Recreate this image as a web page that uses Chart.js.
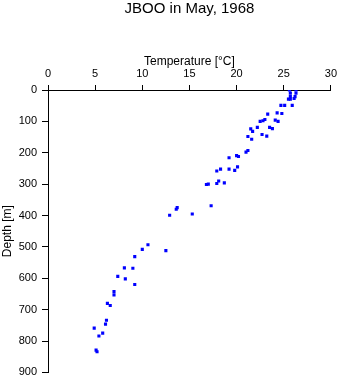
<!DOCTYPE html>
<html>
<head>
<meta charset="utf-8">
<script src="https://cdn.jsdelivr.net/npm/chart.js"></script>
<style>
  html, body { margin: 0; padding: 0; background: #fff; }
  canvas { display: block; }
</style>
</head>
<body>
<canvas id="profile" width="341" height="384"></canvas>
<script>
// JBOO station, May 1968
const temperature = [
    25.6, 26.3, 25.7, 26.3, 25.7, 26.2, 25.5, 25.7, 26.1, 24.7,
    25.1, 25.9, 23.3, 24.3, 24.8, 23.0, 22.5, 22.8, 24.1, 24.4,
    22.2, 23.5, 23.8, 21.5, 21.7, 22.7, 23.2, 21.2, 21.6, 21.2,
    21.0, 20.0, 20.2, 19.2, 20.1, 19.2, 19.8, 18.3, 17.9, 18.1,
    17.9, 18.7, 16.8, 17.0, 13.7, 13.6, 17.3, 15.3, 12.9, 10.6,
    10.0, 12.5, 9.2, 8.1, 9.0, 7.4, 8.2, 9.2, 7.0, 7.0,
    6.3, 6.6, 6.2, 6.1, 4.9, 5.8, 5.4, 5.1, 5.2
];
const depth = [
    0, 0, 10, 10, 21, 21, 29, 29, 27, 49,
    49, 49, 77, 73, 75, 94, 100, 98, 96, 100,
    119, 119, 123, 124, 132, 142, 147, 148, 157, 193,
    198, 209, 212, 216, 245, 252, 256, 252, 258, 290,
    298, 296, 301, 300, 375, 380, 369, 395, 399, 493,
    508, 512, 531, 567, 568, 594, 602, 620, 642, 653,
    680, 687, 734, 746, 759, 775, 784, 829, 834
];
const tempTicks = [0, 5, 10, 15, 20, 25, 30];
const depthTicks = [0, 100, 200, 300, 400, 500, 600, 700, 800, 900];

const FONT = "'Liberation Sans', Arial, Helvetica, sans-serif";
Chart.defaults.font.family = FONT;
Chart.defaults.color = '#000';

const points = temperature.map((t, i) => ({ x: t, y: depth[i] }));

new Chart(document.getElementById('profile').getContext('2d'), {
    type: 'scatter',
    data: {
        datasets: [{
            data: points,
            backgroundColor: '#0000ff',
            borderWidth: 0,
            pointStyle: 'rect',
            pointRadius: 2.2,
            pointHoverRadius: 2.2
        }]
    },
    options: {
        responsive: false,
        animation: false,
        layout: { padding: { top: 0, right: 9, bottom: 9, left: 0 } },
        plugins: {
            legend: { display: false },
            tooltip: { enabled: false },
            title: {
                display: true,
                fullSize: false,
                text: 'JBOO in May, 1968',
                color: '#000',
                font: { size: 15, weight: 'normal', lineHeight: 1.2 },
                padding: { top: 0, bottom: 0 }
            }
        },
        scales: {
            x: {
                type: 'linear',
                position: 'top',
                min: 0,
                max: 30,
                afterBuildTicks: (s) => { s.ticks = tempTicks.map(v => ({ value: v })); },
                afterFit: (s) => { s.height = 72; },
                ticks: { font: { size: 11 }, padding: 4, color: '#000', maxRotation: 0 },
                grid: { drawOnChartArea: false, drawTicks: true, tickLength: 5, color: '#000' },
                border: { display: true, color: '#000', width: 1 },
                title: {
                    display: true,
                    text: 'Temperature [°C]',
                    font: { size: 12 },
                    color: '#000',
                    padding: { top: 36, bottom: 0 }
                }
            },
            y: {
                type: 'linear',
                reverse: true,
                min: 0,
                max: 900,
                afterBuildTicks: (s) => { s.ticks = depthTicks.map(v => ({ value: v })); },
                afterFit: (s) => { s.width = 48; },
                ticks: { font: { size: 11 }, padding: 5, color: '#000' },
                grid: { drawOnChartArea: false, drawTicks: true, tickLength: 6, color: '#000' },
                border: { display: true, color: '#000', width: 1 },
                title: {
                    display: true,
                    text: 'Depth [m]',
                    font: { size: 12 },
                    color: '#000',
                    padding: { top: 0, bottom: 0 }
                }
            }
        }
    }
});
</script>
</body>
</html>
